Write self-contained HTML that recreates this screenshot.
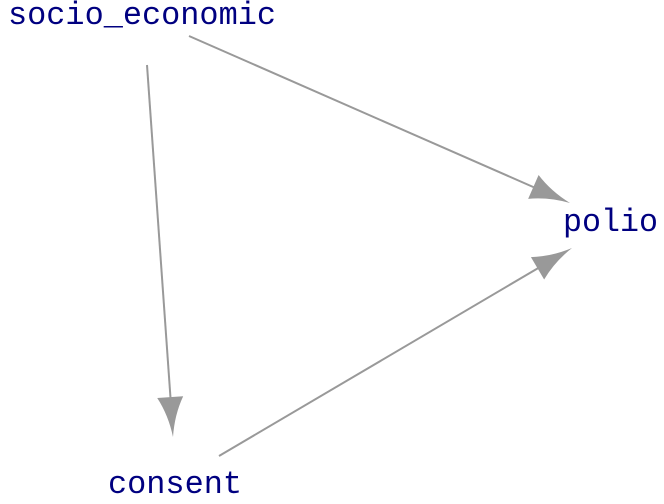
<!DOCTYPE html>
<html><head><style>
html,body{margin:0;padding:0;background:#fff;width:664px;height:504px;overflow:hidden}
text{font-family:"Liberation Mono",monospace;font-size:32px;fill:#000080}
</style></head><body>
<svg width="664" height="504" viewBox="0 0 664 504" xmlns="http://www.w3.org/2000/svg">
<g stroke="#999" stroke-width="2" fill="none">
<line x1="189" y1="36" x2="540" y2="190"/>
<line x1="219" y1="456" x2="540" y2="267"/>
<line x1="147" y1="65" x2="171" y2="405"/>
</g>
<g fill="#999">
<path d="M0,0 Q-22,-3 -40,-13 L-40,13 Q-22,3 0,0Z" transform="translate(570,203) rotate(23.7)"/>
<path d="M0,0 Q-22,-3 -40,-13 L-40,13 Q-22,3 0,0Z" transform="translate(572,248) rotate(-30.5)"/>
<path d="M0,0 Q-22,-3 -40,-13 L-40,13 Q-22,3 0,0Z" transform="translate(173,437) rotate(86)"/>
</g>
<text x="8" y="24" textLength="268" lengthAdjust="spacingAndGlyphs">socio_economic</text>
<text x="563" y="231" textLength="95" lengthAdjust="spacingAndGlyphs">polio</text>
<text x="108" y="493" textLength="134" lengthAdjust="spacingAndGlyphs">consent</text>
</svg>
</body></html>
